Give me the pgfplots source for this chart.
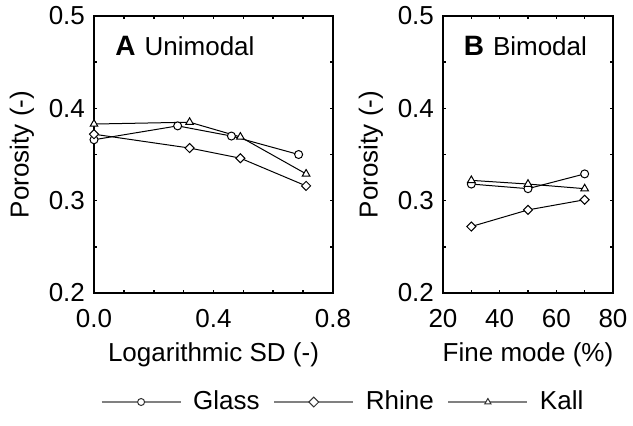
\documentclass[border=0pt]{standalone}
\usepackage{fontspec}
\setmainfont{Liberation Sans}
\usepackage{pgfplots}
\pgfplotsset{compat=1.18}
\pgfplotsset{
  myaxis/.style={
    scale only axis, height=138.5pt, anchor=south west,
    ymin=0.2, ymax=0.5, ytick={0.2,0.3,0.4,0.5}, minor ytick={0.25,0.35,0.45},
    /pgf/number format/assume math mode=true,
    yticklabel style={/pgf/number format/.cd, fixed, fixed zerofill, precision=1, assume math mode=true},
    tick align=inside, major tick length=1.5pt, minor tick length=1.5pt,
    every tick/.style={black, line width=0.8pt},
    axis line style={line width=0.8pt},
    ylabel={Porosity (-)},
    every axis y label/.style={at={(axis description cs:0,0.5)}, xshift=-25.5pt, rotate=90, anchor=south},
    every axis x label/.style={at={(axis description cs:0.5,0)}, anchor=north, yshift=-20.5pt},
    xticklabel shift=3.8pt,
    every axis plot/.append style={black, line width=0.5pt},
  },
  glass/.style={mark=*, mark size=2pt, mark options={solid, fill=white, line width=0.5pt}},
  rhine/.style={mark=square*, mark size=1.6pt, mark options={solid, fill=white, rotate=45, line width=0.5pt}},
  kall/.style={mark=triangle*, mark size=2.2pt, mark options={solid, fill=white, line width=0.5pt}},
}
\newcommand{\plabel}[2]{{\fontsize{14}{16}\selectfont\bfseries #1}\hspace{4.5pt}#2}
\begin{document}
\fontsize{13}{15}\selectfont
\begin{tikzpicture}
\path[use as bounding box] (-47pt,-66pt) rectangle (269.5pt,146.5pt);
\begin{axis}[myaxis, at={(0pt,0pt)}, width=119.5pt,
  xmin=0, xmax=0.8, xtick={0,0.4,0.8}, minor xtick={0.1,0.2,0.3,0.5,0.6,0.7},
  xticklabel style={/pgf/number format/.cd, fixed, fixed zerofill, precision=1, assume math mode=true},
  xlabel={Logarithmic SD (-)},
  legend columns=3,
  legend style={draw=none, fill=none, at={(axis description cs:0.0293,-0.3935)}, anchor=west, inner sep=0pt, outer sep=0pt,
    /tikz/every odd column/.append style={column sep=4pt},
    /tikz/every even column/.append style={column sep=5pt}},
  legend image code/.code={\draw[gray, line width=0.6pt] (0pt,0pt) -- (39.5pt,0pt); \draw[#1, black!80, mark size=1.75pt] plot coordinates {(19.75pt,0pt)};},
]
\addplot[glass] coordinates {(0,0.366) (0.28,0.381) (0.46,0.370) (0.685,0.350)};
\addplot[rhine] coordinates {(0,0.372) (0.32,0.357) (0.49,0.346) (0.71,0.316)};
\addplot[kall] coordinates {(0,0.383) (0.32,0.385) (0.49,0.369) (0.71,0.329)};
\legend{Glass, Rhine, Kall}
\node[anchor=base west, inner sep=0pt] at (axis description cs:0.088,0.856) {\plabel{A}{Unimodal}};
\end{axis}
\begin{axis}[myaxis, at={(174.5pt,0pt)}, width=85pt,
  xmin=20, xmax=80, xtick={20,40,60,80}, minor xtick={30,50,70},
  xlabel={Fine mode (\%)},
]
\addplot[glass] coordinates {(30,0.318) (50,0.313) (70,0.329)};
\addplot[rhine] coordinates {(30,0.272) (50,0.290) (70,0.301)};
\addplot[kall] coordinates {(30,0.322) (50,0.318) (70,0.313)};
\node[anchor=base west, inner sep=0pt] at (axis description cs:0.12,0.856) {\plabel{B}{Bimodal}};
\end{axis}
\end{tikzpicture}
\end{document}
